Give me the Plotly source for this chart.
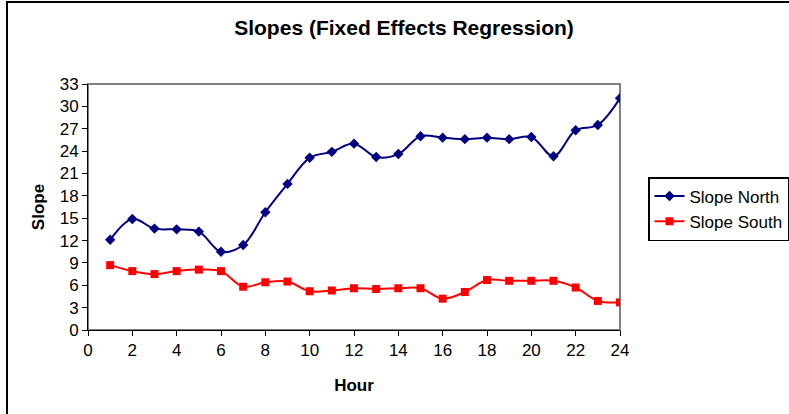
import plotly.graph_objects as go

hours = list(range(1, 25))
slope_north = [12.1, 14.9, 13.6, 13.5, 13.2, 10.5, 11.4, 15.8, 19.6, 23.1, 23.9, 25.0,
               23.2, 23.6, 26.0, 25.8, 25.6, 25.8, 25.6, 25.9, 23.3, 26.8, 27.5, 31.1]
slope_south = [8.7, 7.9, 7.5, 7.9, 8.1, 7.9, 5.8, 6.4, 6.5, 5.2, 5.3, 5.6,
               5.5, 5.6, 5.6, 4.2, 5.1, 6.7, 6.6, 6.6, 6.6, 5.7, 3.9, 3.7]
x_ticks = list(range(0, 25, 2))
y_ticks = list(range(0, 34, 3))

W, H = 789, 414
L, R, T, B = 88, 620, 84, 330
pw, ph = R - L, B - T

def px_x(x):
    return (x - L) / pw

def px_y(y):
    return (B - y) / ph

FONT = "Liberation Sans, Arial"

fig = go.Figure()
fig.add_trace(go.Scatter(x=hours, y=slope_north, name="Slope North", mode="lines+markers",
                         line=dict(color="#000080", width=2, shape="spline", smoothing=1.0),
                         marker=dict(symbol="diamond", size=8, color="#000080")))
fig.add_trace(go.Scatter(x=hours, y=slope_south, name="Slope South", mode="lines+markers",
                         line=dict(color="#FF0000", width=2, shape="spline", smoothing=1.0),
                         marker=dict(symbol="square", size=8, color="#FF0000")))

fig.update_layout(
    width=W, height=H,
    margin=dict(l=L, r=W - R, t=T, b=H - B, autoexpand=False),
    paper_bgcolor="white", plot_bgcolor="white",
    font=dict(family=FONT, size=17, color="black"),
    title=dict(text="<b>Slopes (Fixed Effects Regression)</b>", x=404 / W, xanchor="center",
               xref="container", y=1 - 28 / H, yanchor="middle", yref="container",
               font=dict(size=21)),
    showlegend=True,
    legend=dict(x=px_x(648), y=px_y(177), xanchor="left", yanchor="top",
                bordercolor="#000000", borderwidth=1.5, bgcolor="white",
                font=dict(size=17), tracegroupgap=0, itemwidth=30),
    xaxis=dict(range=[0, 24], tickvals=x_ticks, showgrid=False, zeroline=False,
               showline=True, linecolor="black", linewidth=1, ticks="outside",
               ticklen=5, tickcolor="black", automargin=False,
               tickfont=dict(size=17),
               title=dict(text="<b>Hour</b>", font=dict(size=17), standoff=19)),
    yaxis=dict(range=[0, 33], tickvals=y_ticks, showgrid=False, zeroline=False,
               showline=True, linecolor="black", linewidth=1, ticks="outside",
               ticklen=5, tickcolor="black", automargin=False,
               tickfont=dict(size=17),
               title=dict(text="<b>Slope</b>", font=dict(size=17), standoff=10)),
    shapes=[
        dict(type="rect", xref="paper", yref="paper", x0=0, x1=1, y0=0, y1=1,
             line=dict(color="#808080", width=2), layer="below"),
        dict(type="rect", xref="paper", yref="paper",
             x0=px_x(7), x1=px_x(820), y0=px_y(440), y1=px_y(2),
             line=dict(color="black", width=2)),
    ],
)

fig.write_html("out.html", config={"displayModeBar": False},
               post_script="document.body.style.margin='0';")
